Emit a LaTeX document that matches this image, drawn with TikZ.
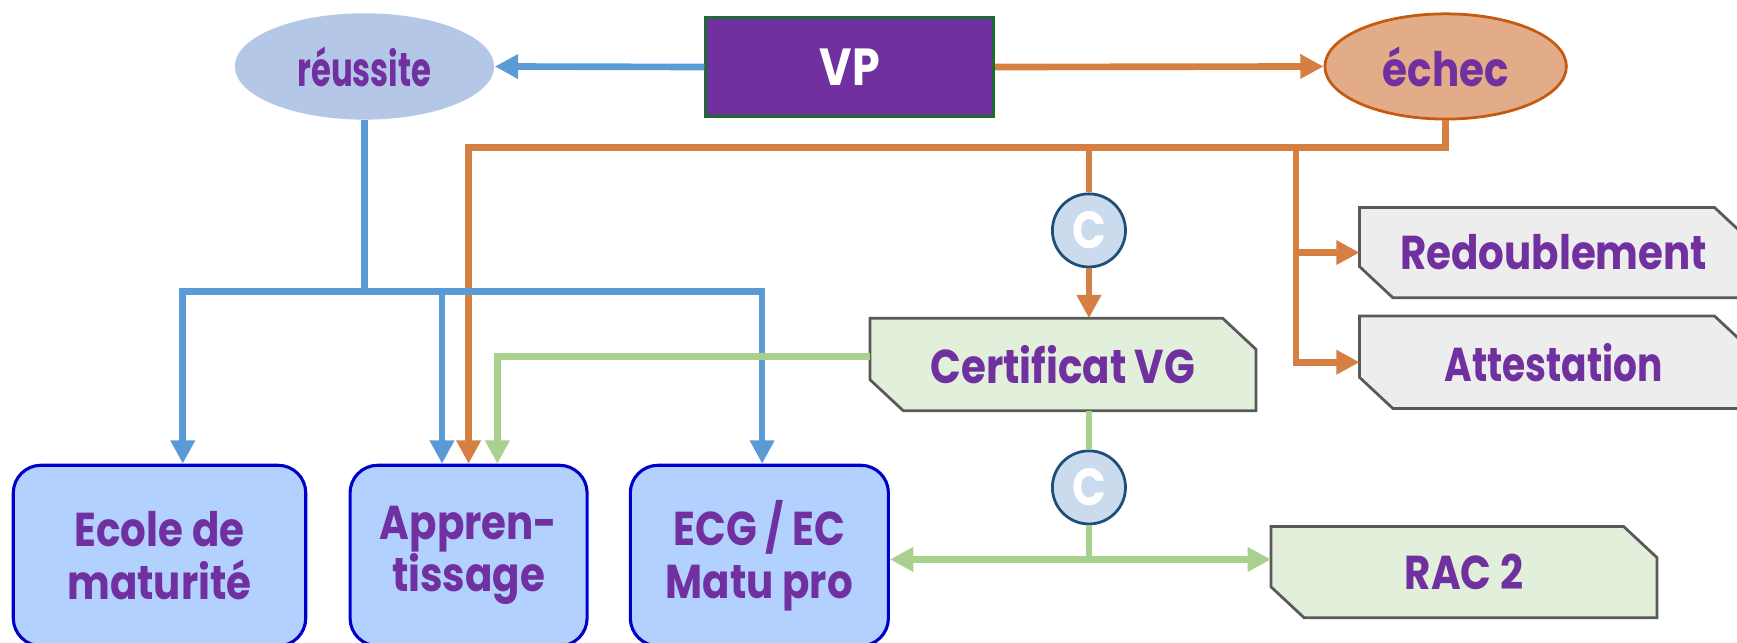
\documentclass[tikz,border=0pt]{standalone}
\usepackage{fontspec}
\setmainfont{Poppins}[FakeStretch=0.85]
\usetikzlibrary{arrows.meta,calc,shapes.geometric}
\definecolor{txt}{HTML}{7030A0}
\definecolor{lblue}{HTML}{5B9BD5}
\definecolor{lorange}{HTML}{D57F43}
\definecolor{lgreen}{HTML}{A9D18E}
\definecolor{reufill}{HTML}{B4C7E7}
\definecolor{echfill}{HTML}{E3AC88}
\definecolor{echdraw}{HTML}{C55A11}
\definecolor{boxfill}{HTML}{B3D1FF}
\definecolor{boxdraw}{HTML}{0000CC}
\definecolor{cfill}{HTML}{CADBED}
\definecolor{cdraw}{HTML}{1F4E79}
\definecolor{gfill}{HTML}{E2EFDA}
\definecolor{grfill}{HTML}{EDEDED}
\definecolor{sdraw}{HTML}{595959}
\definecolor{vpdraw}{HTML}{1D6B2F}
\pgfdeclarelayer{bg}
\pgfsetlayers{bg,main}
\newcommand\sigshape[2]{%
  \begin{pgfonlayer}{bg}
  \path[fill=#2,draw=sdraw,line width=0.25mm,line join=miter]
    (#1.north west) -- ($(#1.north east)+(-30,0)$) -- ($(#1.north east)+(0,28)$)
    -- (#1.south east) -- ($(#1.south west)+(30,0)$) -- ($(#1.south west)+(0,-28)$) -- cycle;
  \end{pgfonlayer}}
\begin{document}
\begin{tikzpicture}[x=0.1mm,y=-0.1mm,
  lbl/.style={font=\fontsize{12.2}{13.5}\selectfont\bfseries,text=txt,align=center},
  ell/.style={ellipse,inner sep=0pt,lbl},
  sbox/.style={rectangle,inner sep=0pt,lbl},
  school/.style={rectangle,rounded corners=2.5mm,fill=boxfill,draw=boxdraw,line width=0.28mm,inner sep=0pt,minimum height=16.3mm,lbl},
  cnode/.style={circle,minimum size=6.6mm,inner sep=0pt,fill=cfill,draw=cdraw,line width=0.25mm,text=white,font=\fontsize{13.4}{14}\selectfont\bfseries},
  conn/.style={line width=0.6mm},
  tip/.style={-{Triangle[length=2.1mm,width=2.1mm]}},
  bl/.style={conn,lblue},
  orl/.style={conn,lorange},
  grl/.style={conn,lgreen}]
\useasboundingbox (0,0) rectangle (1568,580);
% nodes
\node[ell,fill=reufill,minimum width=23.4mm,minimum height=9.6mm] (reu) at (329,60) {\scalebox{0.8}[1]{réussite}};
\node[rectangle,fill=txt,draw=vpdraw,line width=0.25mm,minimum width=26mm,minimum height=8.9mm,inner sep=0pt,text=white,font=\fontsize{13.4}{14}\selectfont\bfseries] (vp) at (767,60.5) {VP};
\node[ell,fill=echfill,draw=echdraw,line width=0.25mm,minimum width=21.8mm,minimum height=9.5mm] (ech) at (1305,60) {échec};
\node[school,minimum width=26.4mm] (ecole) at (144,501.5) {Ecole de\\maturité};
\node[school,minimum width=21.4mm] (app) at (423,501.5) {Appren-\\tissage};
\node[school,minimum width=23.3mm] (ecg) at (685.5,501.5) {ECG / EC\\Matu pro};
\node[cnode] (c1) at (983,208) {C};
\node[cnode] (c2) at (983,440) {C};
\node[sbox,minimum width=34.7mm,minimum height=8.2mm] (cert) at (959.5,329) {Certificat VG};
\node[sbox,minimum width=34.9mm,minimum height=8mm] (red) at (1402.5,228) {Redoublement};
\node[sbox,minimum width=34.9mm,minimum height=8.2mm] (att) at (1402.5,327) {\scalebox{0.93}[1]{Attestation}};
\node[sbox,minimum width=34.7mm,minimum height=8.1mm] (rac) at (1321.5,516.5) {RAC 2};
\sigshape{cert}{gfill}
\sigshape{red}{grfill}
\sigshape{att}{grfill}
\sigshape{rac}{gfill}
% coordinates
\coordinate (oh) at (1305,133);
\coordinate (ov) at (1170,133);
\coordinate (bj) at (329,263);
\coordinate (gj) at (983,505);
% top arrows
\draw[bl,tip] (vp.west) -- (reu.east);
\draw[orl,tip] (vp.east) -- (ech.west);
% orange
\draw[orl,tip] (ech.south) -- (oh) -| (app.north);
\draw[orl] (c1.north |- oh) -- (c1.north);
\draw[orl,tip] (c1.south) -- (c1.south |- cert.north);
\draw[orl,tip] (ov) |- (att.west);
\draw[orl,tip] (ov |- red.west) -- (red.west);
% blue
\draw[bl] (reu.south) -- (bj);
\draw[bl,tip] (bj) -| ($(ecole.north)+(21,0)$);
\draw[bl,tip] (bj) -| ($(app.north)+(-24,0)$);
\draw[bl,tip] (bj) -| ($(ecg.north)+(2.5,0)$);
% green
\draw[grl,tip] ($(cert.west)+(0,-7)$) -| ($(app.north)+(26,0)$);
\draw[grl] (c2.north |- cert.south) -- (c2.north);
\draw[grl] (c2.south) -- (gj);
\draw[grl,{Triangle[length=2.1mm,width=2.1mm]}-{Triangle[length=2.1mm,width=2.1mm]}] (ecg.east |- gj) -- (rac.west |- gj);
\end{tikzpicture}
\end{document}
